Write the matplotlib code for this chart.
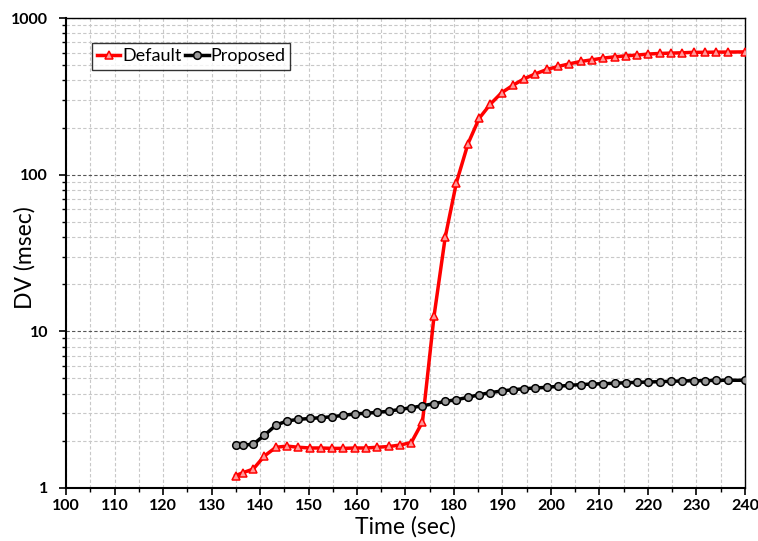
import matplotlib
matplotlib.use("Agg")
import numpy as np
import matplotlib.pyplot as plt
from matplotlib.ticker import FixedLocator, LogLocator, NullFormatter

time = [135, 136.4, 138.6, 140.9, 143.3, 145.6, 147.9, 150.3, 152.6, 154.9,
        157.2, 159.6, 161.9, 164.2, 166.6, 168.9, 171.2, 173.5, 175.9, 178.2,
        180.5, 182.9, 185.2, 187.5, 189.8, 192.2, 194.5, 196.8, 199.2, 201.5,
        203.8, 206.1, 208.5, 210.8, 213.1, 215.5, 217.8, 220.1, 222.4, 224.8,
        227.1, 229.4, 231.8, 234.1, 236.4, 240]

default = [1.2, 1.25, 1.32, 1.6, 1.82, 1.85, 1.82, 1.80, 1.80, 1.79,
           1.79, 1.80, 1.80, 1.82, 1.84, 1.88, 1.95, 2.64, 12.6, 40,
           89, 158, 229, 282, 333, 373, 410, 440, 470, 491,
           510, 528, 541, 555, 565, 574, 580, 589, 594, 597,
           600, 604, 604, 606, 606, 608]

proposed = [1.87, 1.88, 1.90, 2.17, 2.52, 2.68, 2.74, 2.78, 2.81, 2.85,
            2.91, 2.97, 3.00, 3.04, 3.09, 3.18, 3.25, 3.35, 3.45, 3.57,
            3.66, 3.79, 3.94, 4.06, 4.16, 4.24, 4.30, 4.35, 4.39, 4.46,
            4.52, 4.57, 4.61, 4.63, 4.66, 4.70, 4.72, 4.75, 4.77, 4.80,
            4.82, 4.84, 4.84, 4.87, 4.87, 4.87]

plt.rcParams['font.family'] = ['Lato', 'DejaVu Sans']

fig = plt.figure(figsize=(7.58, 5.41), dpi=100)
ax = fig.add_axes([0.0871, 0.098, 0.8957, 0.8687])

ax.plot(time, default, color='red', lw=2.5, marker='^', ms=5.5,
        mfc='#ff9999', mec='red', mew=1.1, label='Default', zorder=3)
ax.plot(time, proposed, color='black', lw=2.5, marker='o', ms=5.5,
        mfc='#999999', mec='black', mew=1.1, label='Proposed', zorder=3)

ax.set_yscale('log')
ax.set_xlim(100, 240)
ax.set_ylim(1, 1000)
ax.set_xticks(np.arange(100, 241, 10))
ax.xaxis.set_minor_locator(FixedLocator(np.arange(105, 240, 10)))
ax.set_yticks([1, 10, 100, 1000])
ax.set_yticklabels(['1', '10', '100', '1000'])
ax.yaxis.set_minor_locator(LogLocator(base=10, subs=np.arange(2, 10)))
ax.yaxis.set_minor_formatter(NullFormatter())

ax.grid(True, which='major', axis='y', ls=(0, (3, 2)), color='#555555', lw=0.8)
ax.grid(True, which='minor', axis='y', ls=(0, (3, 2)), color='#c8c8c8', lw=0.8)
ax.grid(True, which='both', axis='x', ls=(0, (3, 2)), color='#c8c8c8', lw=0.8)
ax.set_axisbelow(True)

ax.tick_params(which='major', direction='out', length=5, width=1.2, labelsize=11.5)
ax.tick_params(which='minor', direction='out', length=3, width=1)
ax.tick_params(axis='y', which='major', pad=8)
ax.tick_params(axis='x', which='major', pad=3)
for lab in ax.get_xticklabels() + ax.get_yticklabels():
    lab.set_fontweight('bold')

for sp in ['left', 'bottom']:
    ax.spines[sp].set_linewidth(1.5)
for sp in ['top', 'right']:
    ax.spines[sp].set_linewidth(1.0)

ax.set_xlabel('Time (sec)', fontsize=16.5, va='center')
ax.xaxis.set_label_coords(0.5, -0.082)
ax.set_ylabel('DV (msec)', fontsize=16.5, va='center')
ax.yaxis.set_label_coords(-0.061, 0.49)

leg = ax.legend(loc='upper left', bbox_to_anchor=(0.038, 0.946), ncol=2,
                fontsize=13, frameon=True, fancybox=False, edgecolor='black',
                handlelength=1.3, handletextpad=0.1, columnspacing=0.2,
                borderpad=0.28, borderaxespad=0)
leg.get_frame().set_linewidth(1.0)

fig.savefig('out.png')
